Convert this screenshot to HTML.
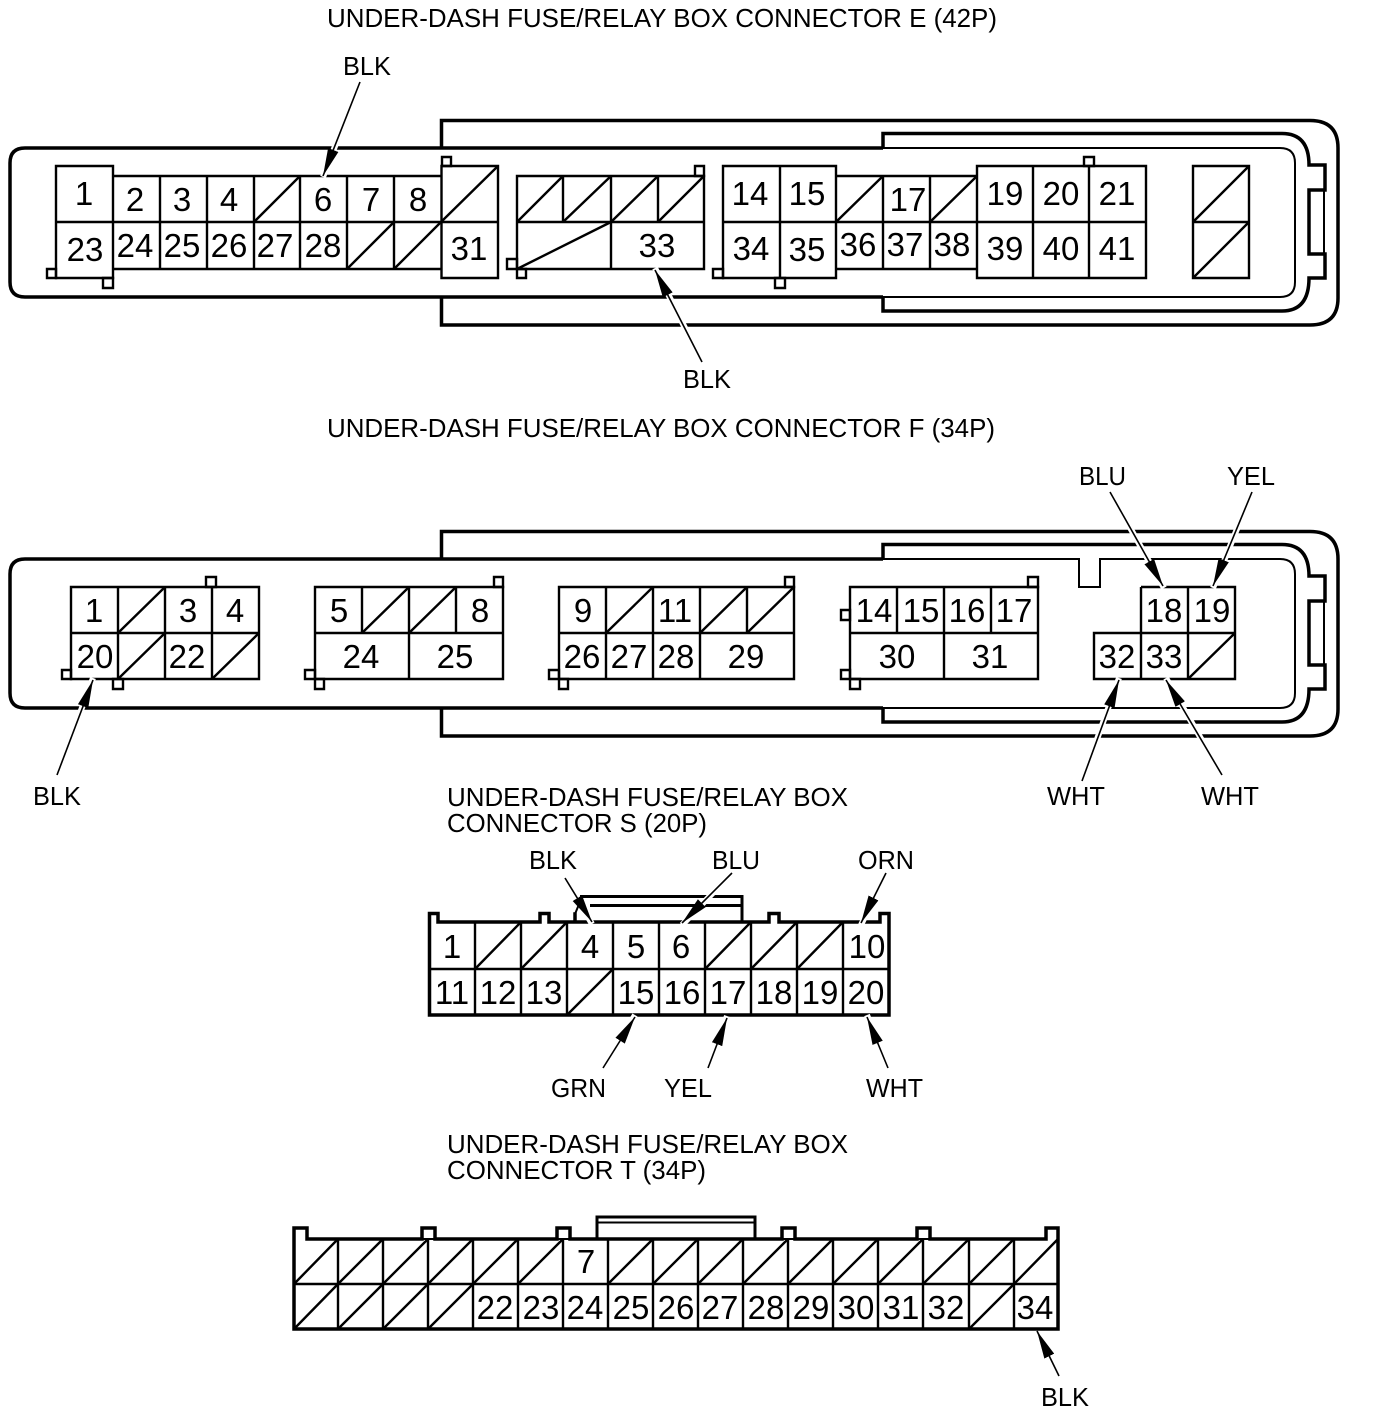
<!DOCTYPE html>
<html><head><meta charset="utf-8"><style>
html,body{margin:0;padding:0;background:#fff}
svg{display:block}
text{font-family:"Liberation Sans",sans-serif;fill:#000}
.n{font-size:33px;text-anchor:middle}
.l{font-size:26px}
.k{fill:none;stroke:#000;stroke-width:3.5}
.g{fill:none;stroke:#000;stroke-width:2.4}
.t{fill:none;stroke:#000;stroke-width:2}
.h{stroke:#fff;stroke-width:6;fill:none}
.a{stroke:#000;stroke-width:1.6;fill:none;marker-end:url(#m)}
</style></head><body>
<svg xmlns="http://www.w3.org/2000/svg" width="1376" height="1412" viewBox="0 0 1376 1412">
<defs><marker id="m" markerUnits="userSpaceOnUse" markerWidth="30" markerHeight="12" refX="28" refY="6" orient="auto"><polygon points="0,0.5 28,6 0,11.5" fill="#000"/></marker></defs>
<rect width="1376" height="1412" fill="#fff"/>

<!-- CONNECTOR E SHELL -->
<g id="shellE">
<path class="k" d="M441.5 148V120.5H1310Q1338 120.5 1338 148V298Q1338 325 1310 325H441.5V297"/>
<path class="k" d="M883 148H25Q10 148 10 163V282Q10 297 25 297H883"/>
<path class="k" d="M883 148V133.5H1282Q1309 133.5 1309 165H1325V190H1309V254H1325V278H1309Q1309 311 1282 311H883V297"/>
<path class="t" d="M883 148H1280Q1295 148 1295 163V282Q1295 297 1280 297H883M1324 190V254"/>
</g>

<!-- E GRID -->
<path class="g" d="M56 166H113V278H56ZM56 222H441M113 176H441M113 269H441M160 176V269M207 176V269M254 176V269M300 176V269M347 176V269M394 176V269"/>
<path class="g" d="M441.5 166H498V278H441.5ZM441.5 222H498"/>
<path class="g" d="M254 222L300 176M347 269L394 222M394 269L441 222M441 222L498 166"/>
<path class="g" d="M47 269H56V278H47ZM103 278H113V288H103ZM442 157H451V166H442Z"/>
<path class="g" d="M517 176H704V269H517ZM517 222H704M563 176V222M611 176V269M658 176V222"/>
<path class="g" d="M517 222L563 176M563 222L611 176M611 222L658 176M658 222L704 176M517 269L611 222"/>
<path class="g" d="M507 259H517V269H507ZM517 269H526V278H517ZM695 166H704V176H695Z"/>
<path class="g" d="M723 166H836V278H723ZM723 222H836M780 166V278"/>
<path class="g" d="M836 176H977M836 269H977M836 222H977M883 176V269M930 176V269"/>
<path class="g" d="M836 222L883 176M930 222L977 176"/>
<path class="g" d="M977 166H1146V278H977ZM977 222H1146M1033 166V278M1089 166V278"/>
<path class="g" d="M713 269H723V278H713ZM775 278H785V288H775ZM1084 157H1094V166H1084Z"/>
<path class="g" d="M1193 166H1249V278H1193ZM1193 222H1249M1193 222L1249 166M1193 278L1249 222"/>

<!-- E NUMBERS -->
<text class="n" x="84" y="205">1</text><text class="n" x="85" y="261">23</text>
<text class="n" x="135" y="211">2</text><text class="n" x="182" y="211">3</text><text class="n" x="229" y="211">4</text>
<text class="n" x="323" y="211">6</text><text class="n" x="371" y="211">7</text><text class="n" x="418" y="211">8</text>
<text class="n" x="135" y="257">24</text><text class="n" x="182" y="257">25</text><text class="n" x="229" y="257">26</text><text class="n" x="275" y="257">27</text><text class="n" x="323" y="257">28</text>
<text class="n" x="469" y="260">31</text><text class="n" x="657" y="257">33</text>
<text class="n" x="750" y="205">14</text><text class="n" x="807" y="205">15</text><text class="n" x="751" y="260">34</text><text class="n" x="807" y="261">35</text>
<text class="n" x="858" y="256">36</text><text class="n" x="905" y="256">37</text><text class="n" x="952" y="256">38</text><text class="n" x="908" y="211">17</text>
<text class="n" x="1005" y="205">19</text><text class="n" x="1061" y="205">20</text><text class="n" x="1117" y="205">21</text>
<text class="n" x="1005" y="260">39</text><text class="n" x="1061" y="260">40</text><text class="n" x="1117" y="260">41</text>

<!-- CONNECTOR F SHELL -->
<g transform="translate(0,411)">
<path class="k" d="M441.5 148V120.5H1310Q1338 120.5 1338 148V298Q1338 325 1310 325H441.5V297"/>
<path class="k" d="M883 148H25Q10 148 10 163V282Q10 297 25 297H883"/>
<path class="k" d="M883 148V133.5H1282Q1309 133.5 1309 165H1325V190H1309V254H1325V278H1309Q1309 311 1282 311H883V297"/>
<path class="t" d="M883 148H1079V176H1100V148H1280Q1295 148 1295 163V282Q1295 297 1280 297H883M1324 190V254"/>
</g>

<!-- F GRID -->
<path class="g" d="M71 587H259V679H71ZM71 633H259M118 587V679M165 587V679M212 587V679"/>
<path class="g" d="M118 633L165 587M118 679L165 633M212 679L259 633"/>
<path class="g" d="M206 577H216V587H206ZM62 670H71V679H62ZM113 679H123V689H113Z"/>
<path class="g" d="M315 587H503V679H315ZM315 633H503M362 587V633M409 587V679M456 587V633"/>
<path class="g" d="M362 633L409 587M409 633L456 587"/>
<path class="g" d="M494 577H503V587H494ZM305 670H315V679H305ZM315 679H324V689H315Z"/>
<path class="g" d="M559 587H794V679H559ZM559 633H794M606 587V679M653 587V679M700 587V679M747 587V633"/>
<path class="g" d="M606 633L653 587M700 633L747 587M747 633L794 587"/>
<path class="g" d="M785 577H794V587H785ZM549 670H559V679H549ZM559 679H568V689H559Z"/>
<path class="g" d="M850 587H1038V679H850ZM850 633H1038M897 587V633M944 587V679M991 587V633"/>
<path class="g" d="M1028 577H1038V587H1028ZM841 610H850V620H841ZM841 670H850V679H841ZM850 679H860V689H850Z"/>
<path class="g" d="M1141 587H1235V679H1094V633H1235M1141 587V679M1188 587V679M1188 679L1235 633"/>

<!-- F NUMBERS -->
<text class="n" x="94" y="622">1</text><text class="n" x="188" y="622">3</text><text class="n" x="235" y="622">4</text>
<text class="n" x="95" y="668">20</text><text class="n" x="187" y="668">22</text>
<text class="n" x="339" y="622">5</text><text class="n" x="480" y="622">8</text><text class="n" x="361" y="668">24</text><text class="n" x="455" y="668">25</text>
<text class="n" x="583" y="622">9</text><text class="n" x="675" y="622">11</text>
<text class="n" x="582" y="668">26</text><text class="n" x="629" y="668">27</text><text class="n" x="676" y="668">28</text><text class="n" x="746" y="668">29</text>
<text class="n" x="874" y="622">14</text><text class="n" x="921" y="622">15</text><text class="n" x="967" y="622">16</text><text class="n" x="1014" y="622">17</text>
<text class="n" x="897" y="668">30</text><text class="n" x="990" y="668">31</text>
<text class="n" x="1164" y="622">18</text><text class="n" x="1212" y="622">19</text>
<text class="n" x="1117" y="668">32</text><text class="n" x="1164" y="668">33</text>

<!-- CONNECTOR S -->
<path class="k" style="stroke-linecap:square" d="M429.5 1015V913.5H438V922H540V913.5H549V922H575V914M575 922H769V913.5H779V922H880V913.5H889V1015H429.5"/>
<path class="k" d="M580 896.5H742V922M590 905.5H742" style="stroke-width:3"/>
<path class="t" d="M575 914L582 897"/>
<path class="g" d="M429 969H889M475 922V1015M521 922V1015M567 922V1015M613 922V1015M659 922V1015M705 922V1015M751 922V1015M797 922V1015M843 922V1015"/>
<path class="g" d="M475 969L521 922M521 969L567 922M705 969L751 922M751 969L797 922M797 969L843 922M567 1015L613 969"/>
<text class="n" x="452" y="958">1</text><text class="n" x="590" y="958">4</text><text class="n" x="636" y="958">5</text><text class="n" x="681" y="958">6</text><text class="n" x="867" y="958">10</text>
<text class="n" x="452" y="1004">11</text><text class="n" x="498" y="1004">12</text><text class="n" x="544" y="1004">13</text><text class="n" x="636" y="1004">15</text><text class="n" x="682" y="1004">16</text><text class="n" x="728" y="1004">17</text><text class="n" x="774" y="1004">18</text><text class="n" x="820" y="1004">19</text><text class="n" x="866" y="1004">20</text>

<!-- CONNECTOR T -->
<path class="k" d="M294 1329V1228H307V1239H422V1228H435V1239H557V1228H570V1239H782V1228H795V1239H917V1228H930V1239H1046V1228H1058V1329Z"/>
<path class="k" d="M597 1239V1217H755V1239" style="stroke-width:3"/>
<path class="t" d="M597 1222.5H755M422 1239H435M557 1239H570M782 1239H795M917 1239H930"/>
<path class="g" d="M294 1284H1058M338 1239V1329M383 1239V1329M428 1239V1329M473 1239V1329M518 1239V1329M563 1239V1329M608 1239V1329M653 1239V1329M698 1239V1329M743 1239V1329M788 1239V1329M833 1239V1329M878 1239V1329M923 1239V1329M969 1239V1329M1014 1239V1329"/>
<path class="g" d="M294 1284L338 1239M338 1284L383 1239M383 1284L428 1239M428 1284L473 1239M473 1284L518 1239M518 1284L563 1239M608 1284L653 1239M653 1284L698 1239M698 1284L743 1239M743 1284L788 1239M788 1284L833 1239M833 1284L878 1239M878 1284L923 1239M923 1284L969 1239M969 1284L1014 1239M1014 1284L1058 1239"/>
<path class="g" d="M294 1329L338 1284M338 1329L383 1284M383 1329L428 1284M428 1329L473 1284M969 1329L1014 1284"/>
<text class="n" x="586" y="1273">7</text>
<text class="n" x="495" y="1319">22</text><text class="n" x="541" y="1319">23</text><text class="n" x="585" y="1319">24</text><text class="n" x="631" y="1319">25</text><text class="n" x="676" y="1319">26</text><text class="n" x="720" y="1319">27</text><text class="n" x="766" y="1319">28</text><text class="n" x="811" y="1319">29</text><text class="n" x="856" y="1319">30</text><text class="n" x="901" y="1319">31</text><text class="n" x="946" y="1319">32</text><text class="n" x="1035" y="1319">34</text>

<!-- ARROW HALOS -->
<path class="h" d="M360 82L323 177M702 362L655 268M57 775L93 678M1110 492L1164 588M1252 492L1213 588M1082 781L1119 678M1222 775L1166 678M565 878L592 924M732 873L682 925M886 873L861 925M603 1068L635 1015M708 1068L727 1016M888 1068L867 1015"/>
<!-- ARROWS -->
<line class="a" x1="360" y1="82" x2="323" y2="176"/>
<line class="a" x1="702" y1="362" x2="655" y2="270"/>
<line class="a" x1="57" y1="775" x2="93" y2="680"/>
<line class="a" x1="1110" y1="492" x2="1163" y2="586"/>
<line class="a" x1="1252" y1="492" x2="1213" y2="586"/>
<line class="a" x1="1082" y1="781" x2="1119" y2="680"/>
<line class="a" x1="1222" y1="775" x2="1166" y2="680"/>
<line class="a" x1="565" y1="878" x2="592" y2="922"/>
<line class="a" x1="732" y1="873" x2="682" y2="923"/>
<line class="a" x1="886" y1="873" x2="861" y2="923"/>
<line class="a" x1="603" y1="1068" x2="635" y2="1017"/>
<line class="a" x1="708" y1="1068" x2="727" y2="1018"/>
<line class="a" x1="888" y1="1068" x2="867" y2="1017"/>
<line class="a" x1="1059" y1="1376" x2="1037" y2="1331"/>

<!-- LABELS -->
<text class="l" x="327" y="27" textLength="670" lengthAdjust="spacingAndGlyphs">UNDER-DASH FUSE/RELAY BOX CONNECTOR E (42P)</text>
<text class="l" x="343" y="75" textLength="48" lengthAdjust="spacingAndGlyphs">BLK</text>
<text class="l" x="683" y="388" textLength="48" lengthAdjust="spacingAndGlyphs">BLK</text>
<text class="l" x="327" y="437" textLength="668" lengthAdjust="spacingAndGlyphs">UNDER-DASH FUSE/RELAY BOX CONNECTOR F (34P)</text>
<text class="l" x="1079" y="485" textLength="47" lengthAdjust="spacingAndGlyphs">BLU</text>
<text class="l" x="1227" y="485" textLength="48" lengthAdjust="spacingAndGlyphs">YEL</text>
<text class="l" x="33" y="805" textLength="48" lengthAdjust="spacingAndGlyphs">BLK</text>
<text class="l" x="1047" y="805" textLength="58" lengthAdjust="spacingAndGlyphs">WHT</text>
<text class="l" x="1201" y="805" textLength="58" lengthAdjust="spacingAndGlyphs">WHT</text>
<text class="l" x="447" y="806" textLength="401" lengthAdjust="spacingAndGlyphs">UNDER-DASH FUSE/RELAY BOX</text>
<text class="l" x="447" y="832" textLength="260" lengthAdjust="spacingAndGlyphs">CONNECTOR S (20P)</text>
<text class="l" x="529" y="869" textLength="48" lengthAdjust="spacingAndGlyphs">BLK</text>
<text class="l" x="712" y="869" textLength="48" lengthAdjust="spacingAndGlyphs">BLU</text>
<text class="l" x="858" y="869" textLength="56" lengthAdjust="spacingAndGlyphs">ORN</text>
<text class="l" x="551" y="1097" textLength="55" lengthAdjust="spacingAndGlyphs">GRN</text>
<text class="l" x="664" y="1097" textLength="48" lengthAdjust="spacingAndGlyphs">YEL</text>
<text class="l" x="866" y="1097" textLength="57" lengthAdjust="spacingAndGlyphs">WHT</text>
<text class="l" x="447" y="1153" textLength="401" lengthAdjust="spacingAndGlyphs">UNDER-DASH FUSE/RELAY BOX</text>
<text class="l" x="447" y="1179" textLength="259" lengthAdjust="spacingAndGlyphs">CONNECTOR T (34P)</text>
<text class="l" x="1041" y="1406" textLength="48" lengthAdjust="spacingAndGlyphs">BLK</text>
</svg>
</body></html>
